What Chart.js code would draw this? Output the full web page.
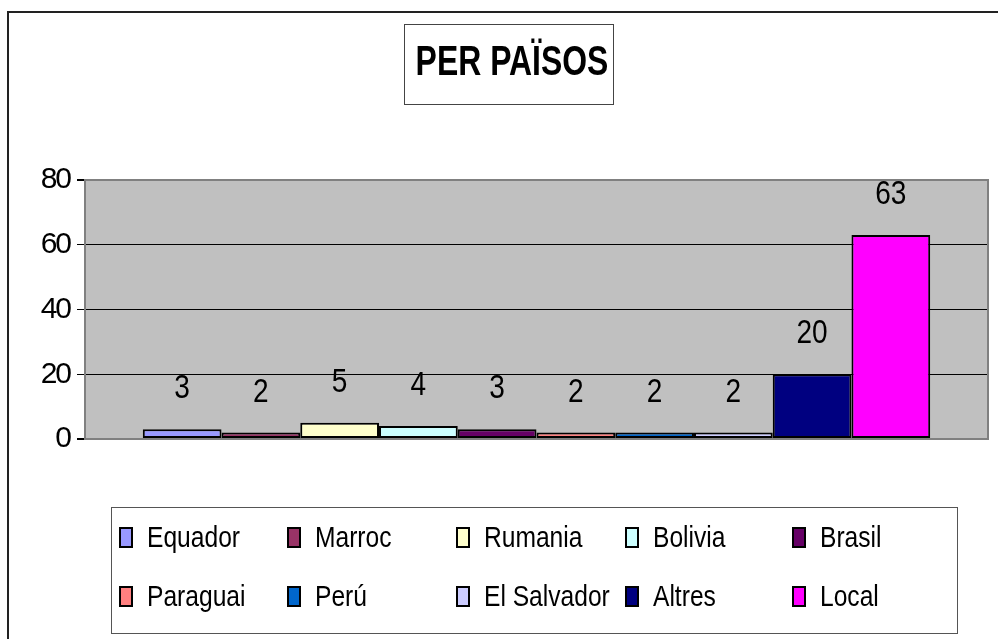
<!DOCTYPE html>
<html lang="ca">
<head>
    <meta charset="UTF-8">
    <title>Per països</title>
    <script src="https://cdn.jsdelivr.net/npm/chart.js"></script>
    <style>
        html, body { margin: 0; padding: 0; background: #fff; }
        canvas { display: block; }
    </style>
</head>
<body>

<canvas id="myChart" width="998" height="639"></canvas>

<script>
const chartTitle = 'PER PAÏSOS';
const countries = ['Equador', 'Marroc', 'Rumania', 'Bolivia', 'Brasil', 'Paraguai', 'Perú', 'El Salvador', 'Altres', 'Local'];
const counts = [3, 2, 5, 4, 3, 2, 2, 2, 20, 63];
const colors = ['#9999FF', '#993366', '#FFFFCC', '#CCFFFF', '#660066', '#FF8080', '#0066CC', '#CCCCFF', '#000080', '#FF00FF'];
const yTicks = [0, 20, 40, 60, 80];

const FONT = '"Liberation Sans", Arial, sans-serif';

// Excel squeezes its text horizontally; mimic that with a scaled draw
function narrowText(ctx, text, x, y, font, sx, align) {
    ctx.save();
    ctx.font = font;
    ctx.letterSpacing = '0px';
    ctx.textAlign = align;
    ctx.textBaseline = 'alphabetic';
    ctx.fillStyle = '#000';
    ctx.translate(x, y);
    ctx.scale(sx, 1);
    ctx.fillText(text, 0, 0);
    ctx.restore();
}

// gray plot background, outer frame and plot border
const backdrop = {
    id: 'backdrop',
    beforeDraw(chart) {
        const { ctx, chartArea: a } = chart;
        ctx.save();
        ctx.fillStyle = '#C0C0C0';
        ctx.fillRect(a.left, a.top, a.right - a.left, a.bottom - a.top);
        // outer frame (only left and top visible)
        ctx.strokeStyle = '#222';
        ctx.lineWidth = 2;
        ctx.beginPath();
        ctx.moveTo(8, 639);
        ctx.lineTo(8, 12);
        ctx.lineTo(998, 12);
        ctx.stroke();
        ctx.restore();
        // tighter tick labels
        ctx.letterSpacing = '-2px';
    },
    beforeDatasetsDraw(chart) {
        const { ctx, chartArea: a } = chart;
        ctx.save();
        ctx.strokeStyle = '#808080';
        ctx.lineWidth = 2;
        ctx.strokeRect(a.left, a.top, a.right - a.left, a.bottom - a.top);
        ctx.restore();
    }
};

// value labels above the bars
const valueLabels = {
    id: 'valueLabels',
    afterDatasetsDraw(chart) {
        chart.data.datasets.forEach((ds, i) => {
            const bar = chart.getDatasetMeta(i).data[0];
            narrowText(chart.ctx, String(ds.data[0]), bar.x, bar.y - 31, '33px ' + FONT, 0.85, 'center');
        });
    }
};

// boxed title and 2x5 legend, Excel style
const boxes = {
    id: 'boxes',
    afterDraw(chart) {
        const ctx = chart.ctx;
        ctx.save();
        ctx.letterSpacing = '0px';
        ctx.strokeStyle = '#444';
        ctx.lineWidth = 1;
        ctx.strokeRect(404.5, 24.5, 209, 80);
        narrowText(ctx, chartTitle, 512, 75, 'bold 42px ' + FONT, 0.76, 'center');

        ctx.strokeStyle = '#555';
        ctx.lineWidth = 1;
        ctx.strokeRect(111.5, 507.5, 846, 126);
        const colX = [120, 288, 457, 626, 793];
        const rowY = [547, 606];
        chart.data.datasets.forEach((ds, i) => {
            const x = colX[i % 5];
            const y = rowY[Math.floor(i / 5)];
            ctx.fillStyle = ds.backgroundColor;
            ctx.fillRect(x, y - 19, 12, 19);
            ctx.lineWidth = 2;
            ctx.strokeStyle = '#000';
            ctx.strokeRect(x, y - 19, 12, 19);
            narrowText(ctx, ds.label, x + 27, y, '30px ' + FONT, 0.82, 'left');
        });
        ctx.restore();
    }
};

const datasets = countries.map((name, i) => ({
    label: name,
    data: [counts[i]],
    backgroundColor: colors[i],
    borderColor: '#000',
    borderWidth: 2,
    borderSkipped: false,
    categoryPercentage: 0.872,
    barPercentage: 1
}));

new Chart(document.getElementById('myChart').getContext('2d'), {
    type: 'bar',
    data: { labels: [''], datasets: datasets },
    options: {
        responsive: false,
        animation: false,
        layout: { padding: { left: 0, top: 180, right: 10, bottom: 200 } },
        plugins: {
            legend: { display: false },
            title: { display: false },
            tooltip: { enabled: false }
        },
        scales: {
            x: { display: false },
            y: {
                min: 0,
                max: 80,
                afterFit: s => { s.width = 85; },
                afterBuildTicks: s => { s.ticks = yTicks.map(v => ({ value: v })); },
                border: { display: true, color: '#808080', width: 2 },
                grid: {
                    color: c => (c.tick.value === 0 || c.tick.value === 80) ? '#808080' : '#000',
                    lineWidth: c => (c.tick.value === 0 || c.tick.value === 80) ? 2 : 1,
                    tickColor: '#000',
                    tickLength: 8,
                    drawTicks: true
                },
                ticks: {
                    color: '#000',
                    padding: 7,
                    font: { family: FONT, size: 30 }
                }
            }
        }
    },
    plugins: [backdrop, valueLabels, boxes]
});
</script>

</body>
</html>
